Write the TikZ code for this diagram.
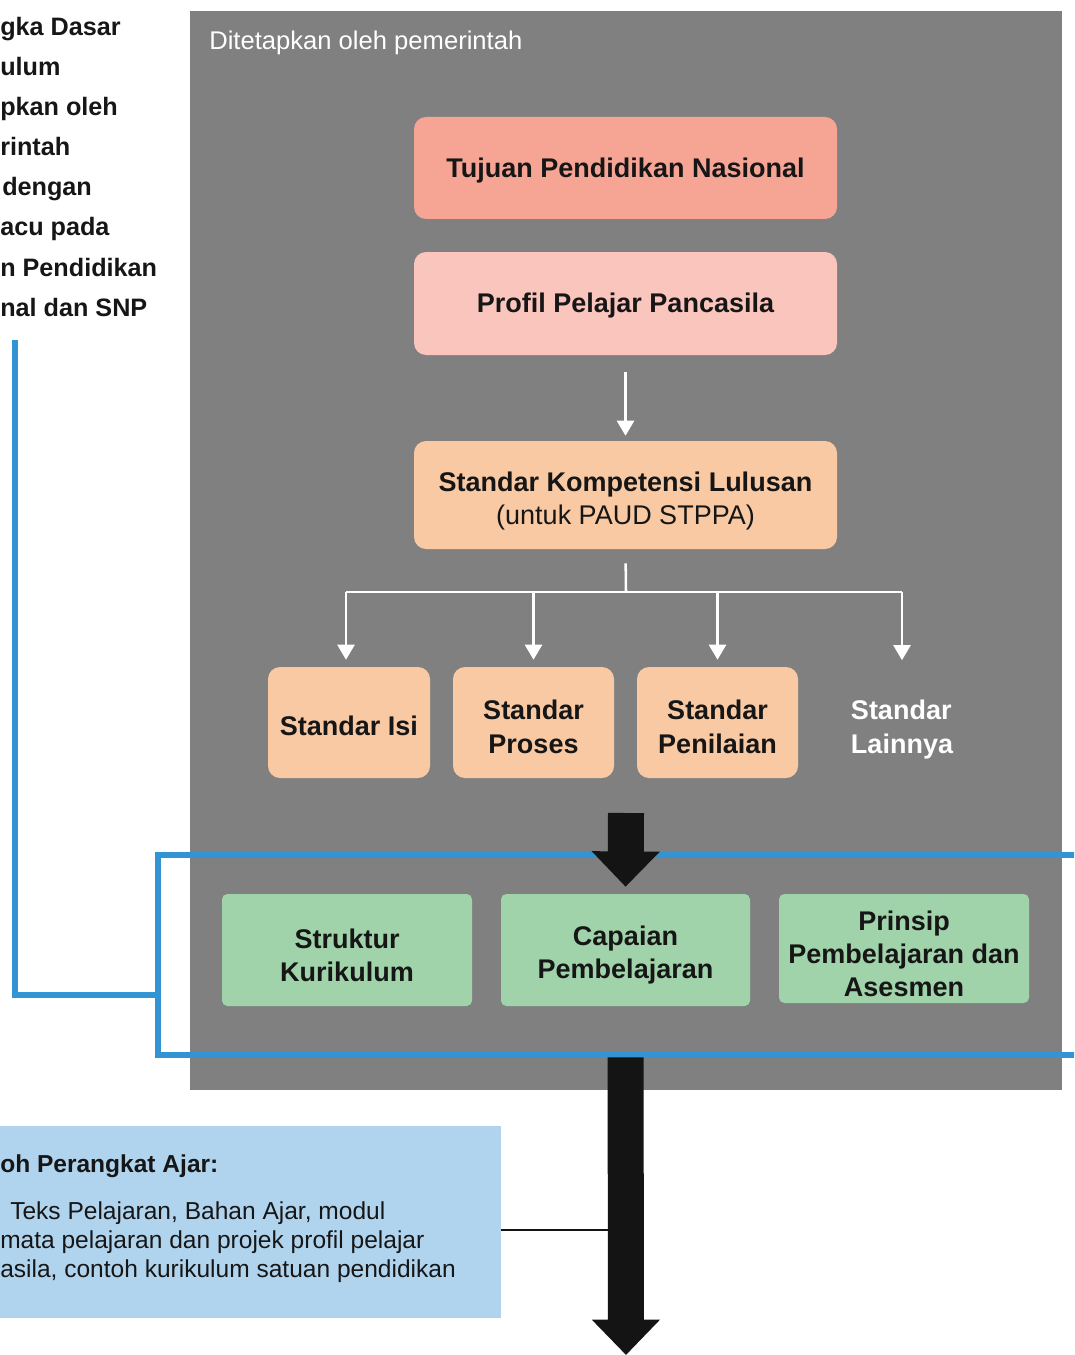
\documentclass[tikz,border=0pt]{standalone}
\usepackage{fontspec}
\setmainfont{Liberation Sans}
\usetikzlibrary{arrows.meta,calc}
\definecolor{bggrey}{HTML}{808080}
\definecolor{salmon}{HTML}{F6A494}
\definecolor{pinkbox}{HTML}{FAC5BC}
\definecolor{peach}{HTML}{F9C9A3}
\definecolor{greenbox}{HTML}{A1D3AB}
\definecolor{lightblue}{HTML}{B1D4EE}
\definecolor{blueline}{HTML}{3394D4}
\definecolor{darkarrow}{HTML}{141414}
\definecolor{txt}{HTML}{161616}
\newcommand\fszbox{\fontsize{20.25pt}{24.7pt}\selectfont\bfseries}
\newcommand\fszside{\fontsize{18.9pt}{30pt}\selectfont\bfseries}
\newcommand\fszgov{\fontsize{19.2pt}{22pt}\selectfont}
\newcommand\fszex{\fontsize{18.4pt}{22pt}\selectfont}
\begin{document}
\begin{tikzpicture}[x=0.75pt,y=-0.75pt,
  box/.style={rounded corners=9pt, inner sep=0pt},
  boxlabel/.style={inner sep=0pt, align=center, text=txt, font=\fszbox},
  sidetext/.style={anchor=base west, inner sep=0pt, text=txt, font=\fszside},
  extext/.style={anchor=base west, inner sep=0pt, text=txt, font=\fszex},
  whitearrow/.style={draw=white, line width=1.9pt, -{Triangle[width=12.75pt,length=11.25pt]}},
  whiteline/.style={draw=white, line width=1.9pt},
  bigarrow/.style={draw=darkarrow, line width=27pt, -{Triangle[width=49.5pt,length=26.5pt]}},
  bluelink/.style={draw=blueline, line width=3.8pt}
]
\useasboundingbox (0,0) rectangle (1074,1355);
\clip (0,0) rectangle (1074,1355);

% grey panel
\node[fill=bggrey, inner sep=0pt, minimum width={872*0.75pt}, minimum height={1079*0.75pt}] (panel) at (626,550.5) {};
\node[anchor=base west, inner sep=0pt, text=white, font=\fszgov] (govlabel) at (209,50) {Ditetapkan oleh pemerintah};

% side text (left, clipped)
\node[sidetext] (s1) at (0,36) {gka Dasar};
\node[sidetext] (s2) at (0,76) {ulum};
\node[sidetext] (s3) at (0,116) {pkan oleh};
\node[sidetext] (s4) at (0,156) {rintah};
\node[sidetext] (s5) at (2,196) {dengan};
\node[sidetext] (s6) at (0,236) {acu pada};
\node[sidetext] (s7) at (0,276) {n Pendidikan};
\node[sidetext] (s8) at (0,316) {nal dan SNP};

% top boxes
\node[box, fill=salmon, minimum width={423*0.75pt}, minimum height={102*0.75pt}] (tujuan) at (625.5,168) {};
\node[boxlabel] (tujuanT) at ([yshift=-2pt]tujuan.center) {Tujuan Pendidikan Nasional};
\node[box, fill=pinkbox, minimum width={423*0.75pt}, minimum height={103*0.75pt}] (profil) at (625.5,303.5) {};
\node[boxlabel] (profilT) at ([yshift=-1.2pt]profil.center) {Profil Pelajar Pancasila};
\node[box, fill=peach, minimum width={423*0.75pt}, minimum height={108*0.75pt}] (skl) at (625.5,495) {};
\node[boxlabel] (sklT) at ([yshift=-4.5pt]skl.center) {Standar Kompetensi Lulusan\\\mdseries (untuk PAUD STPPA)};

% standar row
\node[box, fill=peach, minimum width={162*0.75pt}, minimum height={111*0.75pt}] (isi) at (349,722.5) {};
\node[boxlabel] (isiT) at ([yshift=-2.5pt]isi.center) {Standar Isi};
\node[box, fill=peach, minimum width={161*0.75pt}, minimum height={111*0.75pt}] (proses) at (533.5,722.5) {};
\node[boxlabel, font=\fontsize{20.25pt}{25.5pt}\selectfont\bfseries] (prosesT) at ([yshift=-3pt]proses.center) {Standar\\Proses};
\node[box, fill=peach, minimum width={161*0.75pt}, minimum height={111*0.75pt}] (penilaian) at (717.5,722.5) {};
\node[boxlabel, font=\fontsize{20.25pt}{25.5pt}\selectfont\bfseries] (penilaianT) at ([yshift=-3pt]penilaian.center) {Standar\\Penilaian};
\node[boxlabel, text=white, align=left, font=\fontsize{20.25pt}{25.5pt}\selectfont\bfseries] (lainnya) at (902,730) {Standar\\Lainnya};

% white connectors
\draw[whitearrow, shorten <=12.75pt, shorten >=3.75pt] (profil.south) -- (skl.north);
\coordinate (split) at (626,592);
\draw[whiteline, shorten <=10.5pt] (skl.south) -- (split);
\draw[whiteline] ([xshift=-2.25pt]split -| isi) -- (split -| lainnya);
\draw[whitearrow, shorten >=5.25pt] ([xshift=-2.25pt]split -| isi) -- ([xshift=-2.25pt]isi.north);
\draw[whitearrow, shorten >=5.25pt] (split -| proses) -- (proses.north);
\draw[whitearrow, shorten >=5.25pt] (split -| penilaian) -- (penilaian.north);
\draw[whitearrow, shorten >=30pt] (split -| lainnya) -- (lainnya.north);

% blue frame and link
\node[draw=blueline, line width=3.8pt, inner sep=0pt, minimum width={930*0.75pt}, minimum height={200*0.75pt}] (frame) at (623,955) {};
\coordinate (linktop) at (15,340);
\draw[bluelink] (linktop) |- ([yshift=-30pt]frame.west);

% green boxes
\node[box, rounded corners=4pt, fill=greenbox, minimum width={250*0.75pt}, minimum height={112*0.75pt}] (struktur) at (347,950) {};
\node[boxlabel] (strukturT) at ([yshift=-3.75pt]struktur.center) {Struktur\\Kurikulum};
\node[box, rounded corners=4pt, fill=greenbox, minimum width={249*0.75pt}, minimum height={112*0.75pt}] (capaian) at (625.5,950) {};
\node[boxlabel] (capaianT) at ([yshift=-3.75pt]capaian.center) {Capaian\\Pembelajaran};
\node[box, rounded corners=4pt, fill=greenbox, minimum width={250*0.75pt}, minimum height={109*0.75pt}] (prinsip) at (904,948.5) {};
\node[boxlabel] (prinsipT) at ([yshift=-3.75pt]prinsip.center) {Prinsip\\Pembelajaran dan\\Asesmen};

% example box
\node[fill=lightblue, inner sep=0pt, minimum width={511*0.75pt}, minimum height={192*0.75pt}] (contoh) at (245.5,1222) {};
\node[extext] (c1) at (0,1172) {\bfseries oh Perangkat Ajar:};
\node[extext] (c2) at (10,1219) {Teks Pelajaran, Bahan Ajar, modul};
\node[extext] (c3) at (0,1248) {mata pelajaran dan projek profil pelajar};
\node[extext] (c4) at (0,1277) {asila, contoh kurikulum satuan pendidikan};
\coordinate (shaftpt) at (626,1230);
\draw[darkarrow, line width=1.6pt] (contoh.east |- shaftpt) -- (shaftpt);

% big arrows
\coordinate (bigtop) at (626,813);
\draw[bigarrow, shorten >=5.25pt] (bigtop) -- (capaian.north);
\coordinate (bigend) at (626,1355);
\draw[bigarrow, shorten <=38.25pt] (capaian.south) -- (bigend);
\end{tikzpicture}
\end{document}
